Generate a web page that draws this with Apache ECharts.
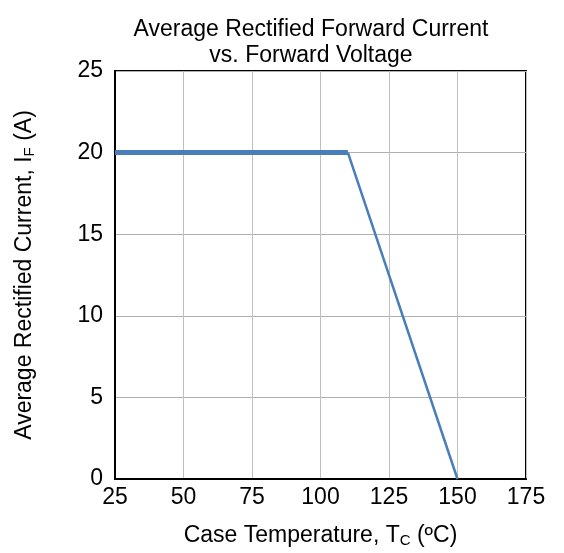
<!DOCTYPE html>
<html><head><meta charset="utf-8">
<script src="https://cdn.jsdelivr.net/npm/echarts@6/dist/echarts.min.js"></script>
<style>html,body{margin:0;padding:0;background:#fff}#c{width:564px;height:553px}</style>
</head><body><div id="c"></div>
<script>
const flatTemps = [25, 110];
const flatCurrent = [20, 20];
const derateTemps = [110, 150];
const derateCurrent = [20, 0];
const xTicks = [25, 50, 75, 100, 125, 150, 175];
const yTicks = [0, 5, 10, 15, 20, 25];

const font = 'Liberation Sans, Arial, sans-serif';
const chart = echarts.init(document.getElementById('c'));
chart.setOption({
  backgroundColor: '#fff',
  animation: false,
  title: {
    text: 'Average Rectified Forward Current\nvs. Forward Voltage',
    left: 306, top: 12, textAlign: 'center',
    textStyle: {fontFamily: font, fontSize: 23, fontWeight: 'normal', color: '#000', lineHeight: 26}
  },
  grid: {left: 115, right: 38, top: 71, bottom: 71, show: true, borderColor: '#000', borderWidth: 2},
  xAxis: {
    type: 'value', min: 25, max: 175, interval: 25,
    name: 'Case Temperature, T{s|C} (ºC)', nameLocation: 'middle', nameGap: 44,
    nameTextStyle: {fontFamily: font, fontSize: 23, color: '#000', rich: {s: {fontFamily: font, fontSize: 15, color: '#000', padding: [10, 0, 0, 0]}}},
    axisLine: {show: true, lineStyle: {color: '#000', width: 2}},
    axisTick: {show: false},
    axisLabel: {fontFamily: font, fontSize: 23, color: '#000', margin: 7,
      formatter: v => xTicks.includes(v) ? String(v) : ''},
    splitLine: {show: true, lineStyle: {color: '#c0c0c0', width: 1}}
  },
  yAxis: {
    type: 'value', min: 0, max: 25, interval: 5,
    name: 'Average Rectified Current, I{s|F} (A)', nameLocation: 'middle', nameGap: 78,
    nameTextStyle: {fontFamily: font, fontSize: 23, color: '#000', rich: {s: {fontFamily: font, fontSize: 15, color: '#000', padding: [9, 0, 0, 0]}}},
    axisLine: {show: true, lineStyle: {color: '#000', width: 2}},
    axisTick: {show: false},
    axisLabel: {fontFamily: font, fontSize: 23, color: '#000', margin: 12,
      formatter: v => yTicks.includes(v) ? String(v) : ''},
    splitLine: {show: true, lineStyle: {color: '#b0b0b0', width: 1}}
  },
  series: [
    {type: 'line', data: flatTemps.map((t, i) => [t, flatCurrent[i]]), symbol: 'none',
     lineStyle: {color: '#4a7ebb', width: 5}, z: 3},
    {type: 'line', data: derateTemps.map((t, i) => [t, derateCurrent[i]]), symbol: 'none',
     lineStyle: {color: '#4a7ebb', width: 2.5}, z: 3}
  ]
});
</script></body></html>
